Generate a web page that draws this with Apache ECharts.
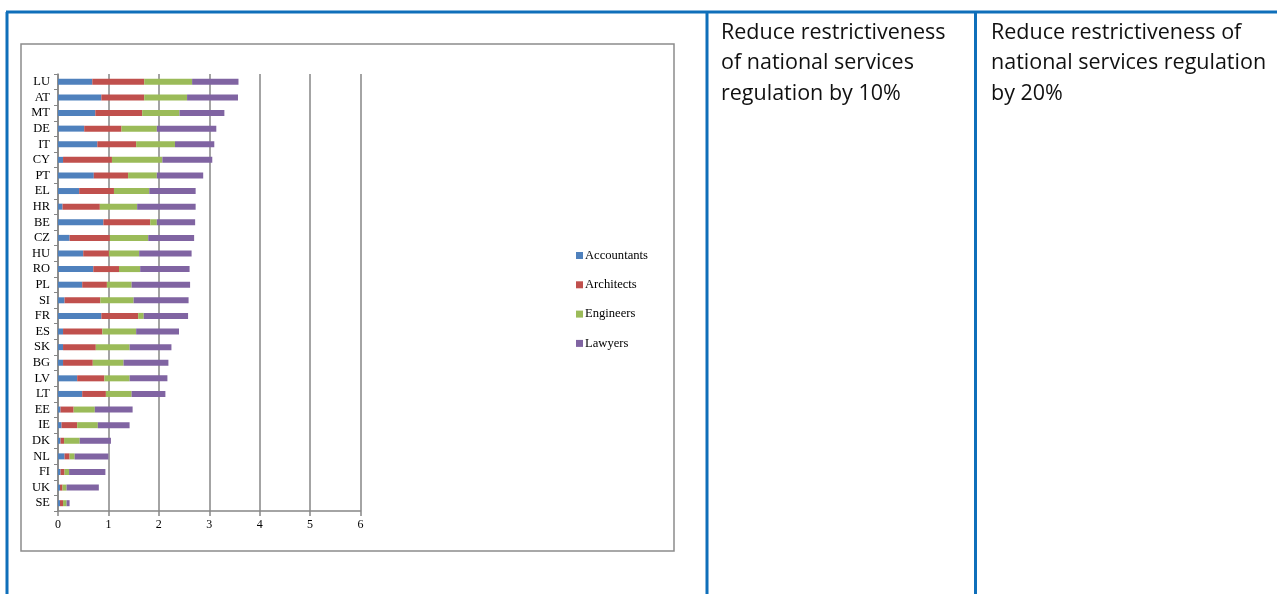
<!DOCTYPE html>
<html>
<head>
<meta charset="utf-8">
<script src="https://cdn.jsdelivr.net/npm/echarts@6/dist/echarts.min.js"></script>
<style>
html,body{margin:0;padding:0;background:#fff;}
#c{width:1277px;height:594px;}
</style>
</head>
<body>
<div id="c"></div>
<script>
var categories = ['LU','AT','MT','DE','IT','CY','PT','EL','HR','BE','CZ','HU','RO','PL','SI','FR','ES','SK','BG','LV','LT','EE','IE','DK','NL','FI','UK','SE'];
var accountants = [0.68,0.86,0.74,0.52,0.78,0.10,0.71,0.42,0.09,0.90,0.23,0.50,0.70,0.48,0.13,0.86,0.10,0.10,0.10,0.38,0.48,0.05,0.07,0.05,0.13,0.05,0.04,0.04];
var architects  = [1.03,0.85,0.93,0.74,0.77,0.97,0.68,0.69,0.74,0.93,0.80,0.51,0.51,0.49,0.71,0.73,0.78,0.65,0.59,0.54,0.47,0.26,0.31,0.07,0.10,0.08,0.05,0.06];
var engineers   = [0.95,0.85,0.74,0.70,0.77,1.00,0.57,0.70,0.74,0.13,0.76,0.60,0.42,0.49,0.66,0.11,0.67,0.67,0.61,0.50,0.51,0.42,0.41,0.31,0.10,0.09,0.08,0.07];
var lawyers     = [0.92,1.01,0.89,1.18,0.78,0.99,0.92,0.92,1.16,0.76,0.91,1.04,0.98,1.16,1.09,0.88,0.85,0.83,0.89,0.75,0.67,0.75,0.63,0.62,0.67,0.72,0.64,0.06];
var xTicks = [0,1,2,3,4,5,6];
var headerCol2 = 'Reduce restrictiveness\nof national services\nregulation by 10%';
var headerCol3 = 'Reduce restrictiveness of\nnational services regulation\nby 20%';

var seriesDefs = [
  {name:'Accountants', data:accountants, color:'#4F81BD'},
  {name:'Architects', data:architects, color:'#C0504D'},
  {name:'Engineers', data:engineers, color:'#9BBB59'},
  {name:'Lawyers', data:lawyers, color:'#8064A2'}
];

var serif = '"Liberation Serif", "Times New Roman", serif';
var blue = '#0f6fba';
var headFont = '21.5px "Open Sans", Lato, sans-serif';
var chart = echarts.init(document.getElementById('c'), null, {renderer:'canvas'});
chart.setOption({
  animation:false,
  backgroundColor:'#ffffff',
  grid:{left:58, top:74, right:916.5, bottom:83, containLabel:false},
  xAxis:{
    type:'value', min:xTicks[0], max:xTicks[xTicks.length-1], interval:1,
    axisLine:{show:true, lineStyle:{color:'#868686', width:1.5}},
    axisTick:{show:true, length:5, lineStyle:{color:'#868686', width:1.5}},
    splitLine:{show:true, lineStyle:{color:'#868686', width:1.5}},
    axisLabel:{color:'#000', fontFamily:serif, fontSize:12, margin:8}
  },
  yAxis:{
    type:'category', data:categories, inverse:true,
    axisLine:{show:true, lineStyle:{color:'#868686', width:1.5}},
    axisTick:{show:true, length:4, interval:0, lineStyle:{color:'#868686', width:1}},
    axisLabel:{color:'#000', fontFamily:serif, fontSize:12.5, margin:8, interval:0}
  },
  legend:{
    orient:'vertical', left:571, top:243.5,
    itemWidth:7, itemHeight:7, itemGap:15.3,
    icon:'rect',
    textStyle:{color:'#000', fontFamily:serif, fontSize:12.6, lineHeight:14, padding:[0,0,0,-3]},
    data:seriesDefs.map(function(s){return s.name;})
  },
  series:seriesDefs.map(function(s){
    return {name:s.name, type:'bar', stack:'total', data:s.data, barWidth:6,
      itemStyle:{color:s.color}};
  }),
  graphic:[
    {type:'rect', shape:{x:21, y:44, width:653, height:507}, style:{fill:'none', stroke:'#8c8c8c', lineWidth:1.5}, z:-1},
    {type:'line', shape:{x1:6, y1:12, x2:1277, y2:12}, style:{stroke:blue, lineWidth:3}},
    {type:'line', shape:{x1:7, y1:12, x2:7, y2:594}, style:{stroke:blue, lineWidth:3}},
    {type:'line', shape:{x1:707, y1:12, x2:707, y2:594}, style:{stroke:blue, lineWidth:3}},
    {type:'line', shape:{x1:975.5, y1:12, x2:975.5, y2:594}, style:{stroke:blue, lineWidth:3}},
    {type:'text', x:721, y:17.5, style:{text:headerCol2, font:headFont, fill:'#111', lineHeight:30.5, textVerticalAlign:'top'}},
    {type:'text', x:991, y:17.5, style:{text:headerCol3, font:headFont, fill:'#111', lineHeight:30.5, textVerticalAlign:'top'}}
  ]
});
</script>
</body>
</html>
